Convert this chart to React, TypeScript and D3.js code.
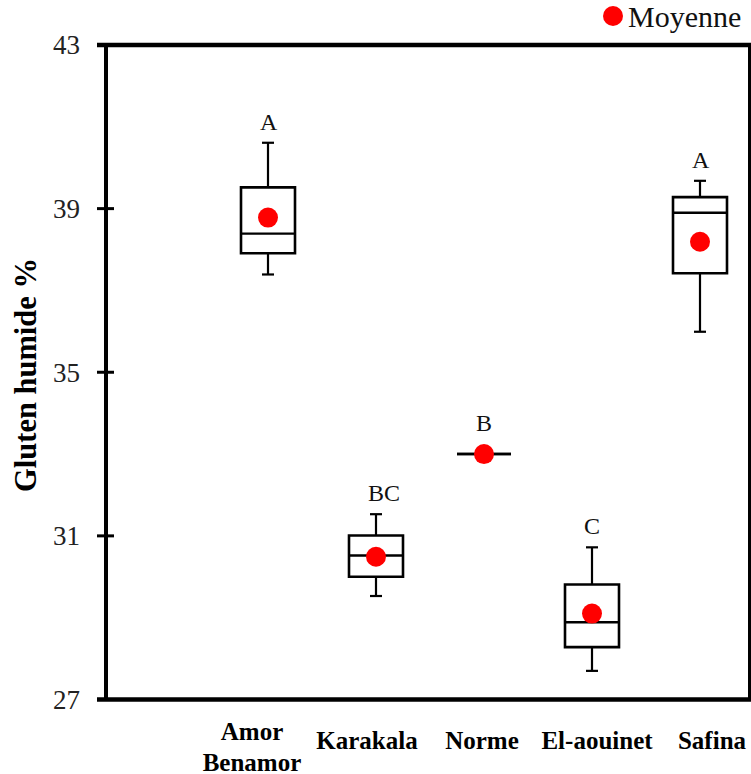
import React from "react";
import * as d3 from "d3";

// Wet gluten content (%) per wheat variety: box-plot statistics and group letters
const categories = ["Amor Benamor", "Karakala", "Norme", "El-aouinet", "Safina"];
const whiskerLow = [37.39, 29.53, 33, 27.7, 35.99];
const q1 = [37.91, 30.0, 33, 28.28, 37.42];
const median = [38.39, 30.52, 33, 28.89, 38.9];
const q3 = [39.52, 31.01, 33, 29.81, 39.28];
const whiskerHigh = [40.61, 31.53, 33, 30.72, 39.68];
const means = [38.78, 30.49, 33, 29.1, 38.19];
const groupLetters = ["A", "BC", "B", "C", "A"];
const yTicks = [27, 31, 35, 39, 43];

const W = 751;
const H = 774;
const FONT = "'Liberation Serif', 'Times New Roman', serif";

export default function App() {
  const y = d3.scaleLinear().domain([27, 43]).range([699.5, 45]);
  const x = d3.scalePoint<string>().domain(categories).range([268, 700]);
  const xLabel = d3.scalePoint<string>().domain(categories).range([252, 712]);

  const axisX = 106;
  const frameLeft = 97;
  const frameRight = 749.5;
  const boxW = 54;
  const capW = 12;
  const dotR = 10;

  return (
    <svg
      width={W}
      height={H}
      style={{ position: "absolute", left: 0, top: 0, background: "#fff" }}
      fontFamily={FONT}
    >
      <rect width={W} height={H} fill="#fff" />

      {/* plot frame */}
      <line x1={frameLeft} x2={W} y1={y(43)} y2={y(43)} stroke="#000" strokeWidth={4.5} />
      <line x1={frameLeft} x2={W} y1={y(27)} y2={y(27)} stroke="#000" strokeWidth={4.5} />
      <line x1={axisX} x2={axisX} y1={y(43)} y2={y(27)} stroke="#000" strokeWidth={4} />
      <line x1={frameRight} x2={frameRight} y1={y(43)} y2={y(27)} stroke="#000" strokeWidth={3} />

      {/* y ticks and labels */}
      {yTicks.map((t) => (
        <g key={t}>
          {t !== 27 && t !== 43 && (
            <line x1={frameLeft} x2={114} y1={y(t)} y2={y(t)} stroke="#000" strokeWidth={3} />
          )}
          <text
            x={80}
            y={y(t)}
            dy="0.35em"
            textAnchor="end"
            fontSize={27}
            fill="#222"
          >
            {t}
          </text>
        </g>
      ))}

      {/* y axis title */}
      <text
        transform={`translate(36, 375) rotate(-90)`}
        textAnchor="middle"
        fontSize={30.5}
        fontWeight="bold"
        fill="#000"
      >
        Gluten humide %
      </text>

      {/* boxes */}
      {categories.map((c, i) => {
        const cx = x(c)!;
        const x0 = cx - boxW / 2;
        const x1 = cx + boxW / 2;
        const boxPath = `M${x0},${y(q3[i])}H${x1}V${y(q1[i])}H${x0}Z`;
        const topMark = Math.min(y(whiskerHigh[i]), y(means[i]) - dotR);
        return (
          <g key={c}>
            <line x1={cx} x2={cx} y1={y(whiskerHigh[i])} y2={y(q3[i])} stroke="#000" strokeWidth={2.2} />
            <line x1={cx} x2={cx} y1={y(q1[i])} y2={y(whiskerLow[i])} stroke="#000" strokeWidth={2.2} />
            <line x1={cx - capW / 2} x2={cx + capW / 2} y1={y(whiskerHigh[i])} y2={y(whiskerHigh[i])} stroke="#000" strokeWidth={2.2} />
            <line x1={cx - capW / 2} x2={cx + capW / 2} y1={y(whiskerLow[i])} y2={y(whiskerLow[i])} stroke="#000" strokeWidth={2.2} />
            <path d={boxPath} fill="#fff" stroke="#000" strokeWidth={2.6} />
            <line x1={x0} x2={x1} y1={y(median[i])} y2={y(median[i])} stroke="#000" strokeWidth={2.4} />
            <circle cx={cx} cy={y(means[i])} r={dotR} fill="#ff0000" />
            <text x={cx - 8} y={topMark - 13} fontSize={24} fill="#111">
              {groupLetters[i]}
            </text>
          </g>
        );
      })}

      {/* category labels */}
      {categories.map((c) => {
        const lines = c.includes(" ") && c.startsWith("Amor") ? c.split(" ") : [c];
        const base = 749 - (lines.length - 1) * 9.5;
        return (
          <text key={c} x={xLabel(c)!} y={base} textAnchor="middle" fontSize={25} fontWeight="bold" fill="#000">
            {lines.map((l, k) => (
              <tspan key={l} x={xLabel(c)!} dy={k === 0 ? 0 : 31}>
                {l}
              </tspan>
            ))}
          </text>
        );
      })}

      {/* legend */}
      <circle cx={613} cy={16} r={10} fill="#ff0000" />
      <text x={628} y={27} fontSize={30} fill="#111">
        Moyenne
      </text>
    </svg>
  );
}
